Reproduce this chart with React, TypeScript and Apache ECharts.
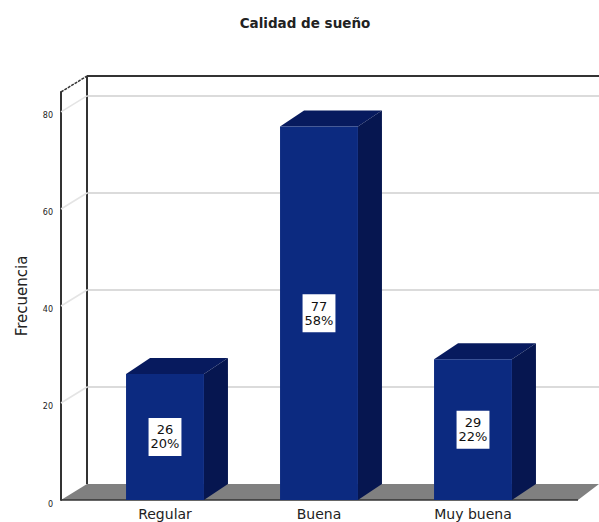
import React, { useEffect, useRef } from "react";
import * as echarts from "echarts";

const categories = ["Regular", "Buena", "Muy buena"];
const frecuencias = [26, 77, 29];
const porcentajes = ["20%", "58%", "22%"];
const yTicks = [20, 40, 60, 80];
const yMax = 84.12;

const FONT = '"DejaVu Sans", Verdana, sans-serif';
const DEPTH_X = 26;
const DEPTH_Y = 16;
const AXIS_OFFSET = 27;
const FLOOR_RIGHT = 578;
const PAGE_RIGHT = 599;

// Back wall, floor and the left-hand edges of the 3D box.
function renderFrame(params: any, api: any) {
  const base = api.coord([0, 0])[1];
  const top = api.coord([0, yMax])[1];
  const front = params.coordSys.x - AXIS_OFFSET;
  const back = front + DEPTH_X;
  const stroke = { stroke: "#333333", lineWidth: 2, fill: "none" };
  return {
    type: "group",
    silent: true,
    children: [
      {
        type: "polygon",
        shape: {
          points: [
            [front, base],
            [back, base - DEPTH_Y],
            [PAGE_RIGHT, base - DEPTH_Y],
            [FLOOR_RIGHT, base],
          ],
        },
        style: { fill: "#808080" },
      },
      { type: "line", shape: { x1: back, y1: top - DEPTH_Y, x2: back, y2: base - DEPTH_Y }, style: stroke },
      { type: "line", shape: { x1: back, y1: top - DEPTH_Y, x2: PAGE_RIGHT, y2: top - DEPTH_Y }, style: stroke },
      { type: "line", shape: { x1: front, y1: top, x2: back, y2: top - DEPTH_Y }, style: { ...stroke, lineWidth: 1.5, lineDash: [3, 1] } },
      { type: "line", shape: { x1: front, y1: base, x2: FLOOR_RIGHT, y2: base }, style: { ...stroke, lineWidth: 1.5 } },
    ],
  };
}

// Horizontal rule on the back wall plus its diagonal run along the side wall.
function renderGridLine(params: any, api: any) {
  const y = api.coord([0, api.value(1)])[1];
  const front = params.coordSys.x - AXIS_OFFSET;
  const back = front + DEPTH_X;
  const style = { stroke: "#cfcfcf", lineWidth: 1.5, fill: "none" };
  return {
    type: "group",
    silent: true,
    children: [
      { type: "line", shape: { x1: front, y1: y, x2: back, y2: y - DEPTH_Y }, style: { ...style, stroke: "#e4e4e4" } },
      { type: "line", shape: { x1: back, y1: y - DEPTH_Y, x2: PAGE_RIGHT, y2: y - DEPTH_Y }, style },
    ],
  };
}

// Extruded column: front face, top and right side, with a boxed value label.
function renderBar(params: any, api: any) {
  const index = api.value(0);
  const value = api.value(1);
  const [cx, yTop] = api.coord([index, value]);
  const yBase = api.coord([index, 0])[1];
  const width = api.size([1, 0])[0] * 0.506;
  const left = cx - width / 2;
  const right = cx + width / 2;
  return {
    type: "group",
    children: [
      {
        type: "polygon",
        shape: {
          points: [
            [left, yTop],
            [left + DEPTH_X - 2, yTop - DEPTH_Y],
            [right + DEPTH_X - 2, yTop - DEPTH_Y],
            [right, yTop],
          ],
        },
        style: { fill: "#071a5e" },
      },
      {
        type: "polygon",
        shape: {
          points: [
            [right, yTop],
            [right + DEPTH_X - 2, yTop - DEPTH_Y],
            [right + DEPTH_X - 2, yBase - DEPTH_Y],
            [right, yBase],
          ],
        },
        style: { fill: "#061650" },
      },
      {
        type: "rect",
        shape: { x: left, y: yTop, width, height: yBase - yTop },
        style: { fill: "#0c2a80" },
      },
      {
        type: "text",
        x: cx,
        y: (yTop + yBase) / 2,
        style: {
          text: `${frecuencias[index]}\n${porcentajes[index]}`,
          font: `13px ${FONT}`,
          lineHeight: 14,
          fill: "#111111",
          align: "center",
          verticalAlign: "middle",
          backgroundColor: "#ffffff",
          padding: [5, 2],
        },
      },
    ],
  };
}

export default function App() {
  const ref = useRef<HTMLDivElement>(null);

  useEffect(() => {
    const chart = echarts.init(ref.current!, undefined, { renderer: "svg" });
    chart.setOption({
      animation: false,
      backgroundColor: "#ffffff",
      title: {
        text: "Calidad de sueño",
        left: 300,
        top: 11,
        textAlign: "center",
        textStyle: { fontFamily: FONT, fontSize: 13.5, fontWeight: "bold", color: "#222222" },
      },
      grid: { left: 88, right: 49, top: 92, bottom: 22 },
      xAxis: {
        type: "category",
        data: categories,
        axisLine: { show: false },
        axisTick: { show: false },
        axisLabel: { fontFamily: FONT, fontSize: 14, color: "#222222", margin: 7 },
      },
      yAxis: {
        type: "value",
        min: 0,
        max: yMax,
        interval: 20,
        offset: AXIS_OFFSET,
        name: "Frecuencia",
        nameLocation: "middle",
        nameGap: 32,
        nameRotate: 90,
        nameTextStyle: { fontFamily: FONT, fontSize: 15, color: "#222222" },
        axisLine: { show: true, lineStyle: { color: "#333333", width: 2 } },
        axisTick: { show: false },
        splitLine: { show: false },
        axisLabel: {
          fontFamily: FONT,
          fontSize: 8,
          color: "#222222",
          margin: 8,
          verticalAlign: "top",
          showMaxLabel: false,
        },
      },
      series: [
        { type: "custom", renderItem: renderFrame, data: [[0, 0]], silent: true, z: 1 },
        { type: "custom", renderItem: renderGridLine, data: yTicks.map((v) => [0, v]), silent: true, z: 2 },
        { type: "custom", renderItem: renderBar, data: frecuencias.map((v, i) => [i, v]), z: 3 },
      ],
    });
    return () => chart.dispose();
  }, []);

  return (
    <div
      ref={ref}
      style={{ position: "absolute", left: 0, top: 0, width: 599, height: 522 }}
    />
  );
}
